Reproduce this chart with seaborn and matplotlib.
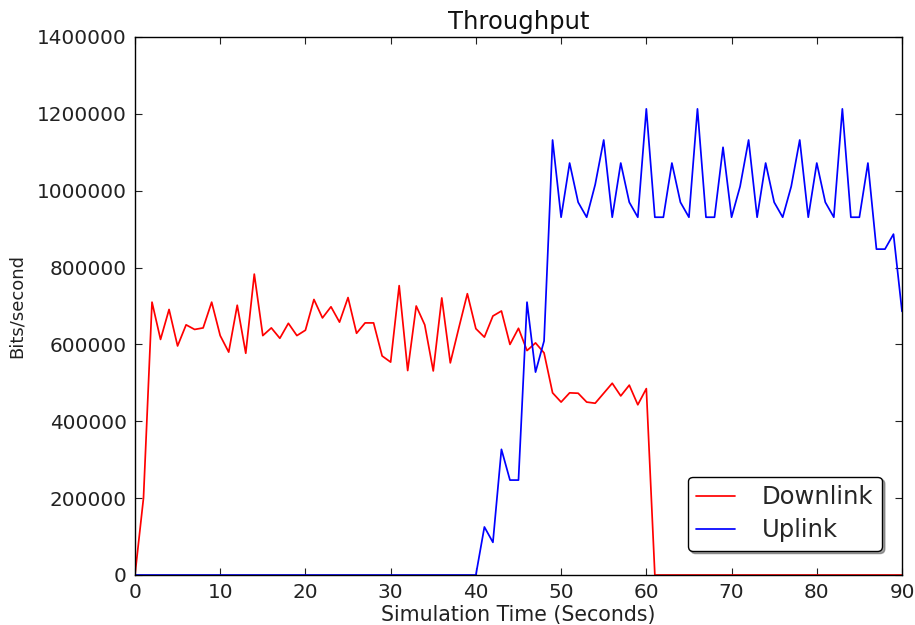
import numpy as np
import pandas as pd
import matplotlib
matplotlib.use("Agg")
import matplotlib.pyplot as plt
import seaborn as sns

time_s = list(range(0, 91))

downlink = [
    0, 200000, 710000, 613000, 691000, 596000, 651000, 639000, 643000, 710000,
    623000, 580000, 702000, 577000, 783000, 623000, 643000, 616000, 655000, 623000,
    637000, 717000, 669000, 698000, 658000, 722000, 629000, 656000, 656000, 570000,
    554000, 753000, 532000, 700000, 651000, 531000, 721000, 552000, 643000, 732000,
    641000, 619000, 674000, 687000, 600000, 642000, 584000, 604000, 578000, 474000,
    450000, 474000, 473000, 450000, 447000, 473000, 499000, 466000, 494000, 443000,
    485000,
] + [0] * 30

uplink = [0] * 41 + [
    125000, 85000, 327000, 247000, 247000, 710000, 528000, 609000, 1132000,
    931000, 1072000, 970000, 931000, 1016000, 1132000, 931000, 1072000, 970000, 931000,
    1213000, 931000, 931000, 1072000, 970000, 931000, 1213000, 931000, 931000, 1113000,
    931000, 1011000, 1132000, 931000, 1072000, 970000, 931000, 1011000, 1132000, 931000,
    1072000, 970000, 931000, 1213000, 931000, 931000, 1072000, 848000, 848000, 887000,
    686000,
]

series_names = ["Downlink", "Uplink"]
series_colors = {"Downlink": "#ff0000", "Uplink": "#0000ff"}

df = pd.DataFrame({
    "Simulation Time (Seconds)": time_s * 2,
    "Bits/second": downlink + uplink,
    "series": ["Downlink"] * len(time_s) + ["Uplink"] * len(time_s),
})

sns.set_style("ticks")
plt.rcParams["font.family"] = ["DejaVu Sans"]

fig, ax = plt.subplots(figsize=(9.15, 6.25), dpi=100)
fig.subplots_adjust(left=0.1475, right=0.9858, top=0.9408, bottom=0.08)

sns.lineplot(data=df, x="Simulation Time (Seconds)", y="Bits/second",
             hue="series", hue_order=series_names, palette=series_colors,
             linewidth=1.25, ax=ax)

ax.set_xlim(0, 90)
ax.set_ylim(0, 1400000)
ax.set_xticks(range(0, 91, 10))
ax.set_yticks(range(0, 1400001, 200000))
ax.set_yticklabels([str(v) for v in range(0, 1400001, 200000)])
ax.tick_params(direction="in", top=True, right=True, length=5, width=0.8,
               labelsize=14.4, colors="#222222", pad=6)
for sp in ax.spines.values():
    sp.set_color("black")
    sp.set_linewidth(1.0)
    sp.set_visible(True)

ax.set_title("Throughput", fontsize=17.5, color="#111111", pad=6)
ax.set_xlabel("Simulation Time (Seconds)", fontsize=14.8, color="#222222", labelpad=2)
ax.set_ylabel("Bits/second", fontsize=13, color="#222222", labelpad=8)

leg = ax.legend(loc="lower right", bbox_to_anchor=(0.974, 0.045), borderaxespad=0,
                fontsize=17.5, frameon=True, fancybox=True, shadow=True,
                handlelength=1.6, handletextpad=1.1, borderpad=0.35,
                labelspacing=0.38)
leg.get_frame().set_edgecolor("black")
leg.get_frame().set_linewidth(1.0)
leg.get_frame().set_facecolor("white")
leg.get_frame().set_alpha(1.0)

fig.savefig("out.png", dpi=100, facecolor="white")
